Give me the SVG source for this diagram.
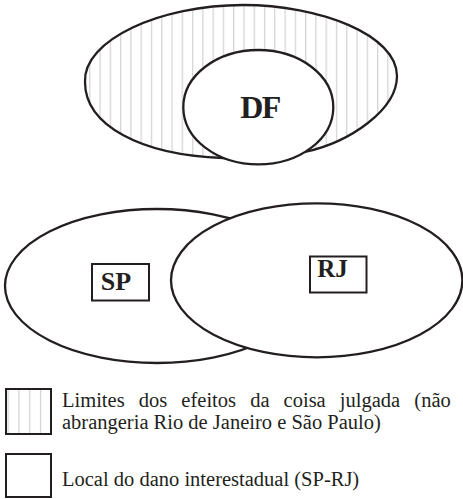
<svg xmlns="http://www.w3.org/2000/svg" width="463" height="499" viewBox="0 0 463 499">
<style>
.ln{fill:none;stroke:#231f20;stroke-width:2.3}
.wf{fill:#fff;stroke:#231f20;stroke-width:2.3}
.bx{fill:#fff;stroke:#231f20;stroke-width:2}
.lbl{font-weight:bold;fill:#231f20}
.leg{font-size:20.5px;fill:#231f20}
</style>
<defs>
<pattern id="hatch" patternUnits="userSpaceOnUse" x="6.9" y="0" width="10.28" height="10">
<rect width="10.28" height="10" fill="#fff"/>
<line x1="0.6" y1="0" x2="0.6" y2="10" stroke="#d4d4d4" stroke-width="1.3"/>
</pattern>
<pattern id="hatch2" patternUnits="userSpaceOnUse" x="7.5" y="0" width="10.8" height="10">
<rect width="10.8" height="10" fill="#fff"/>
<line x1="0.6" y1="0" x2="0.6" y2="10" stroke="#d4d4d4" stroke-width="1.3"/>
</pattern>
</defs>
<g id="limites">
<path d="M85,82 C83,40 160,5 243,5 C320,5 397,35 397,76 C397,110 350,142 305,152 C280,158 245,160 223,158 C140,155 85,125 85,82 Z" fill="url(#hatch)" stroke="#231f20" stroke-width="2.3"/>
</g>
<g id="df">
<ellipse cx="258.3" cy="107.2" rx="75" ry="57.2" class="wf"/>
<text x="260" y="118.3" text-anchor="middle" class="lbl" font-family="Liberation Serif, serif" font-size="32" letter-spacing="-1.5">DF</text>
</g>
<g id="sp">
<ellipse cx="157" cy="286" rx="152" ry="77" class="wf"/>
<rect x="92" y="264" width="57" height="36.5" class="bx"/>
<text x="100.7" y="290" class="lbl" font-family="Liberation Serif, serif" font-size="26">SP</text>
</g>
<g id="rj">
<ellipse cx="316.7" cy="280.3" rx="145.7" ry="77" class="wf"/>
<rect x="310" y="256.5" width="56.5" height="36" class="bx"/>
<text x="317.3" y="276.7" class="lbl" font-family="Liberation Serif, serif" font-size="25">RJ</text>
</g>
<g id="connectors"></g>
<g id="legenda">
<rect x="6" y="389" width="45" height="45" fill="url(#hatch2)" stroke="#231f20" stroke-width="2"/>
<text x="62" y="407" class="leg" font-family="Liberation Serif, serif" word-spacing="9">Limites dos efeitos da coisa julgada (não</text>
<text x="62" y="429" class="leg" font-family="Liberation Serif, serif">abrangeria Rio de Janeiro e São Paulo)</text>
<rect x="6" y="454" width="45" height="43" class="bx"/>
<text x="62" y="485.5" class="leg" font-family="Liberation Serif, serif">Local do dano interestadual (SP-RJ)</text>
</g>
</svg>
